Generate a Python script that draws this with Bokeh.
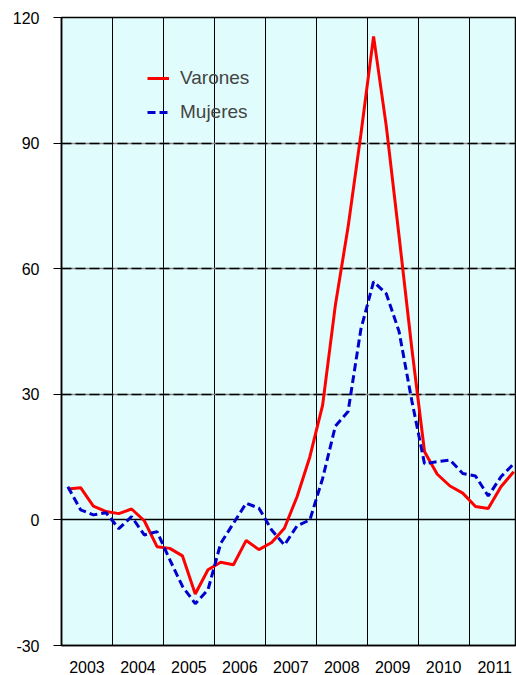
from bokeh.plotting import figure
from bokeh.models import FixedTicker, Grid, Legend, LegendItem, Range1d
from bokeh.embed import file_html
from bokeh.resources import INLINE

years = [2003, 2004, 2005, 2006, 2007, 2008, 2009, 2010, 2011]
quarters = [1, 2, 3, 4]
year_labels = ["2003", "2004", "2005", "2006", "2007", "2008", "2009", "2010", "2011"]
y_ticks = [-30, 0, 30, 60, 90, 120]
y_labels = ["-30", "0", "30", "60", "90", "120"]

varones = [7.4, 7.7, 3.3, 2.0,
           1.5, 2.6, -0.2, -6.4,
           -6.8, -8.6, -17.7, -11.9,
           -10.1, -10.7, -4.9, -7.1,
           -5.4, -2.0, 5.6, 15.1,
           27.4, 51.3, 70.0, 92.0,
           115.5, 94.0, 67.8, 41.0,
           16.3, 10.9, 8.1, 6.4,
           3.2, 2.7, 7.9, 11.5]

mujeres = [7.9, 2.4, 1.2, 1.7,
           -2.1, 0.8, -3.6, -2.8,
           -9.5, -15.9, -20.0, -16.7,
           -5.6, -0.8, 4.0, 2.8,
           -2.4, -6.0, -1.4, 0.0,
           9.9, 22.4, 25.9, 45.5,
           56.9, 54.0, 45.0, 28.5,
           13.4, 13.9, 14.3, 11.1,
           10.5, 5.7, 10.3, 13.4]

# quarter mid-points on a continuous year axis
x = [y + (q - 0.5) / 4 for y in years for q in quarters]

FONT = "Liberation Sans"

p = figure(width=516, height=675, output_backend="svg", toolbar_location=None,
           x_range=Range1d(2003, 2011.93), y_range=Range1d(-30, 120),
           min_border_left=61, min_border_right=0, min_border_top=17, min_border_bottom=29)

p.background_fill_color = "#E0FCFC"
p.border_fill_color = "white"
p.outline_line_color = "black"
p.outline_line_width = 1.5

# x axis: year labels centred in each year
p.xaxis.ticker = FixedTicker(ticks=[y + 0.5 for y in years])
p.xaxis.major_label_overrides = {y + 0.5: lab for y, lab in zip(years, year_labels)}
p.xaxis.major_tick_line_color = None
p.xaxis.minor_tick_line_color = None
p.xaxis.axis_line_color = "black"
p.xaxis.axis_line_width = 1.5
p.xaxis.major_label_standoff = 9
p.xaxis.major_label_text_font = FONT
p.xaxis.major_label_text_font_size = "16px"
p.xaxis.major_label_text_color = "black"

# y axis
p.yaxis.ticker = FixedTicker(ticks=y_ticks)
p.yaxis.major_label_overrides = {t: lab for t, lab in zip(y_ticks, y_labels)}
p.yaxis.major_tick_out = 8
p.yaxis.major_tick_in = 0
p.yaxis.minor_tick_line_color = None
p.yaxis.axis_line_color = "black"
p.yaxis.axis_line_width = 1.5
p.yaxis.major_tick_line_color = "black"
p.yaxis.major_label_standoff = 14
p.yaxis.major_label_text_font = FONT
p.yaxis.major_label_text_font_size = "16px"
p.yaxis.major_label_text_color = "black"

# vertical grid at year boundaries
p.xgrid.ticker = FixedTicker(ticks=years)
p.xgrid.grid_line_color = "black"
p.xgrid.grid_line_width = 1

# horizontal grid: grey base with black dashes
p.ygrid.ticker = FixedTicker(ticks=[30, 60, 90, 120])
p.ygrid.grid_line_color = "#8a8a8a"
p.ygrid.grid_line_width = 1.5
dash_grid = Grid(dimension=1, ticker=FixedTicker(ticks=[30, 60, 90, 120]),
                 grid_line_color="black", grid_line_width=1.5, grid_line_dash="10 4")
p.add_layout(dash_grid)
zero_grid = Grid(dimension=1, ticker=FixedTicker(ticks=[0]),
                 grid_line_color="black", grid_line_width=1.5)
p.add_layout(zero_grid)

r1 = p.line(x, varones, line_color="#FF0000", line_width=3)
r2 = p.line(x, mujeres, line_color="#0000CC", line_width=3, line_dash="8 4")

legend = Legend(items=[LegendItem(label="Varones", renderers=[r1]),
                       LegendItem(label="Mujeres", renderers=[r2])],
                location=(86, 522), padding=0, margin=0, spacing=12,
                glyph_width=22, glyph_height=20, label_height=20, label_standoff=11,
                label_text_font=FONT, label_text_font_size="19px",
                border_line_alpha=0, background_fill_alpha=0)
p.add_layout(legend)

open("out.html", "w").write(file_html(p, INLINE))
